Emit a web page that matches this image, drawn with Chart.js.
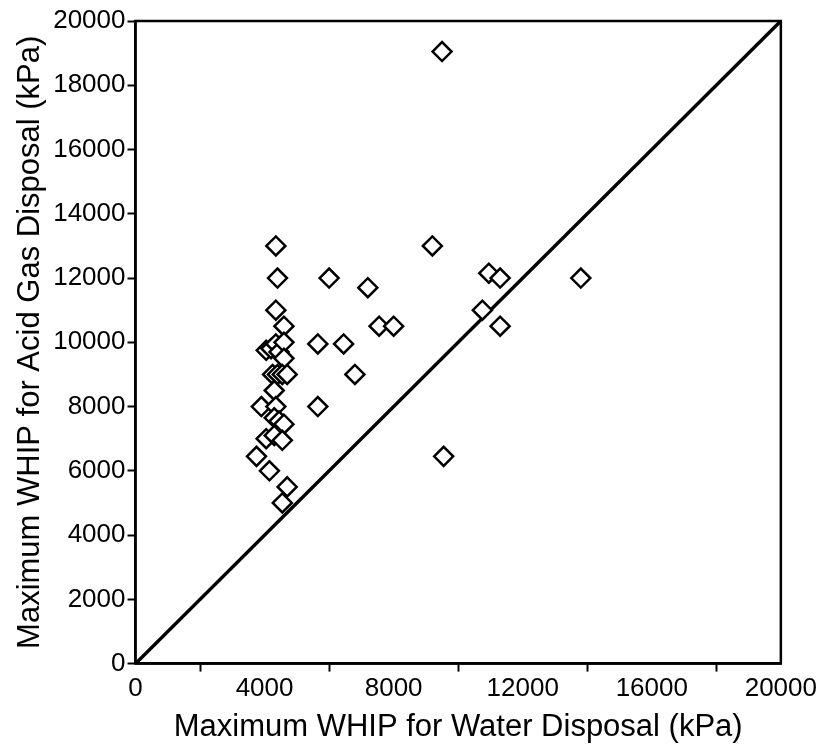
<!DOCTYPE html>
<html>
<head>
<meta charset="utf-8">
<script src="https://cdn.jsdelivr.net/npm/chart.js@4.4.0/dist/chart.umd.min.js"></script>
<style>
  html, body { margin: 0; padding: 0; background: #fff; }
  #wrap { width: 819px; height: 746px; }
</style>
</head>
<body>
<div id="wrap"><canvas id="whip"></canvas></div>
<script>
// Maximum WHIP for water disposal (x) vs acid gas disposal (y), kPa
const waterWhip = [
  9500, 4350, 9200, 4400, 6000, 10950, 11300, 13800, 7200, 4350,
  10750, 4600, 7550, 8000, 11300, 5650, 6450, 4050, 4200, 4350,
  4450, 4600, 4600, 4250, 4400, 4550, 4700, 6800, 4300, 3900,
  4350, 5650, 4300, 4450, 4600, 4050, 4300, 4550, 3750, 9550,
  4150, 4700, 4550
];
const acidGasWhip = [
  19050, 13000, 13000, 12000, 12000, 12150, 12000, 12000, 11700, 11000,
  11000, 10500, 10500, 10500, 10500, 9950, 9950, 9750, 9800, 9950,
  9700, 10000, 9500, 9000, 9000, 9000, 9000, 9000, 8500, 8000,
  8000, 8000, 7650, 7550, 7450, 7000, 7100, 6950, 6450, 6450,
  6000, 5500, 5000
];

// 1:1 reference line
const lineX = [0, 20000];
const lineY = [0, 20000];

const axisMin = 0;
const axisMax = 20000;

const points = waterWhip.map((x, i) => ({ x: x, y: acidGasWhip[i] }));
const oneToOne = lineX.map((x, i) => ({ x: x, y: lineY[i] }));

const font = "'Liberation Sans', Arial, sans-serif";

// draw the box round the plot area
const frame = {
  id: 'frame',
  afterDatasetsDraw(chart) {
    const a = chart.chartArea;
    const c = chart.ctx;
    c.save();
    c.strokeStyle = '#000';
    c.lineWidth = 2.5;
    c.strokeRect(a.left, a.top, a.right - a.left, a.bottom - a.top);
    c.restore();
  }
};

new Chart(document.getElementById('whip'), {
  type: 'scatter',
  data: {
    datasets: [{
      label: 'Wells',
      data: points,
      pointStyle: 'rectRot',
      pointRadius: 9.5,
      pointBorderWidth: 2.5,
      pointBorderColor: '#000',
      pointBackgroundColor: '#fff',
      order: 1
    }, {
      type: 'line',
      label: '1:1',
      data: oneToOne,
      borderColor: '#000',
      borderWidth: 3.5,
      pointRadius: 0,
      fill: false,
      order: 2
    }]
  },
  plugins: [frame],
  options: {
    responsive: true,
    maintainAspectRatio: false,
    animation: false,
    layout: { padding: { left: 12, right: 38, top: 21, bottom: 0 } },
    plugins: {
      legend: { display: false },
      tooltip: { enabled: false }
    },
    scales: {
      x: {
        type: 'linear',
        min: axisMin,
        max: axisMax,
        border: { display: true, color: '#000', width: 2.5 },
        grid: {
          drawOnChartArea: false,
          tickLength: 8,
          tickWidth: 2,
          tickColor: (ctx) => (ctx.tick && ctx.tick.value % 4000 === 0) ? 'rgba(0,0,0,0)' : '#000'
        },
        ticks: {
          stepSize: 2000,
          autoSkip: false,
          maxRotation: 0,
          color: '#000',
          padding: 2,
          font: { family: font, size: 26 },
          callback: (v) => v % 4000 === 0 ? String(v) : ''
        },
        title: {
          display: true,
          text: 'Maximum WHIP for Water Disposal (kPa)',
          color: '#000',
          font: { family: font, size: 31 },
          padding: { top: 2, bottom: 0 }
        }
      },
      y: {
        type: 'linear',
        min: axisMin,
        max: axisMax,
        border: { display: true, color: '#000', width: 2.5 },
        grid: {
          drawOnChartArea: false,
          tickLength: 8,
          tickWidth: 2,
          tickColor: '#000'
        },
        ticks: {
          stepSize: 2000,
          autoSkip: false,
          color: '#000',
          padding: 2,
          font: { family: font, size: 26 },
          callback: (v) => String(v)
        },
        title: {
          display: true,
          text: 'Maximum WHIP for Acid Gas Disposal (kPa)',
          color: '#000',
          font: { family: font, size: 31 },
          padding: { top: 0, bottom: 2 }
        }
      }
    }
  }
});
</script>
</body>
</html>
